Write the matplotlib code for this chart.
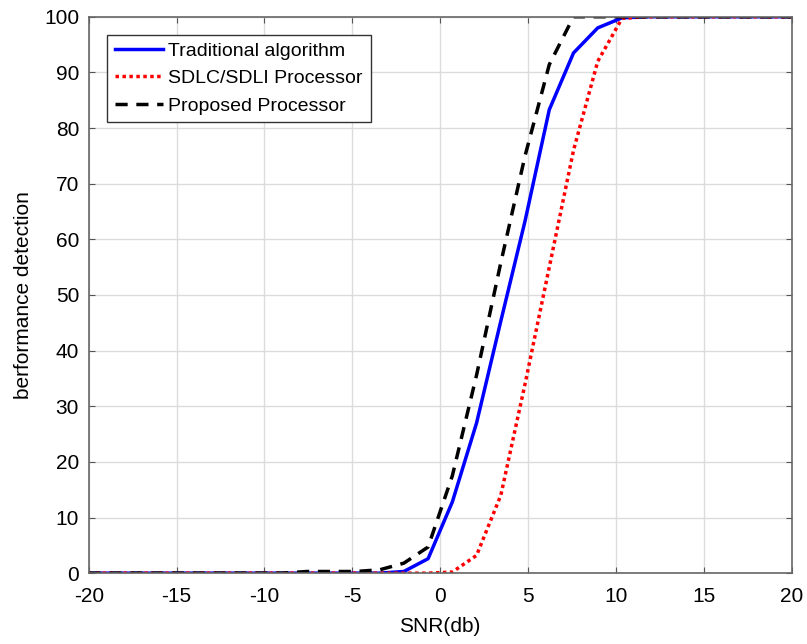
import numpy as np
import matplotlib
matplotlib.use("Agg")
import matplotlib.pyplot as plt

plt.rcParams['font.family'] = ['Liberation Sans', 'DejaVu Sans']
plt.rcParams['axes.unicode_minus'] = False

# SNR grid (30 points from -20 to 20 dB)
snr = np.linspace(-20, 20, 30)

traditional = [0, 0, 0, 0, 0, 0, 0, 0, 0, 0, 0, 0, 0, 0.3, 2.6,
               12.8, 27, 45.3, 63.3, 83.3, 93.5, 98, 99.8, 100, 100,
               100, 100, 100, 100, 100]
sdlc = [0, 0, 0, 0, 0, 0, 0, 0, 0, 0, 0, 0, 0, 0, 0,
        0.2, 3.2, 14, 34, 55, 76, 92, 99.7, 100, 100,
        100, 100, 100, 100, 100]
proposed = [0, 0, 0, 0, 0, 0, 0, 0, 0, 0.3, 0.3, 0.3, 0.6, 1.8, 4.7,
            17.5, 35.6, 55.8, 75, 91.4, 100, 100, 100, 100, 100,
            100, 100, 100, 100, 100]

labels = ["Traditional algorithm", "SDLC/SDLI Processor", "Proposed Processor"]

fig = plt.figure(figsize=(8.07, 6.44), dpi=100)
ax = fig.add_axes([0.110, 0.110, 0.871, 0.864])

ax.plot(snr, traditional, color="#0000ff", lw=2.5, label=labels[0])
ax.plot(snr, sdlc, color="#ff0000", lw=2.5, ls=(0, (1, 1)), label=labels[1])
ax.plot(snr, proposed, color="black", lw=2.5, ls=(0, (3.5, 2.5)), label=labels[2])

ax.set_xlim(-20, 20)
ax.set_ylim(0, 100)
ax.set_xticks(np.arange(-20, 21, 5))
ax.set_yticks(np.arange(0, 101, 10))
ax.grid(True, color="#dcdcdc", lw=1)
ax.set_axisbelow(True)
ax.tick_params(direction="in", top=True, right=True, length=4, labelsize=15,
               color="#555555", pad=7)
ax.tick_params(axis="x", pad=10)
for s in ax.spines.values():
    s.set_color("#666666")
    s.set_linewidth(1.2)

ax.set_xlabel("SNR(db)", fontsize=15, labelpad=8)
ax.set_ylabel("berformance detection", fontsize=15, labelpad=8)

leg = ax.legend(loc="upper left", bbox_to_anchor=(0.026, 0.968), fontsize=14,
                handlelength=2.5, handletextpad=0.25, borderpad=0.4,
                labelspacing=0.5, fancybox=False, framealpha=1,
                borderaxespad=0)
leg.get_frame().set_edgecolor("#333333")
leg.get_frame().set_linewidth(1.0)

fig.savefig("out.png", dpi=100)
